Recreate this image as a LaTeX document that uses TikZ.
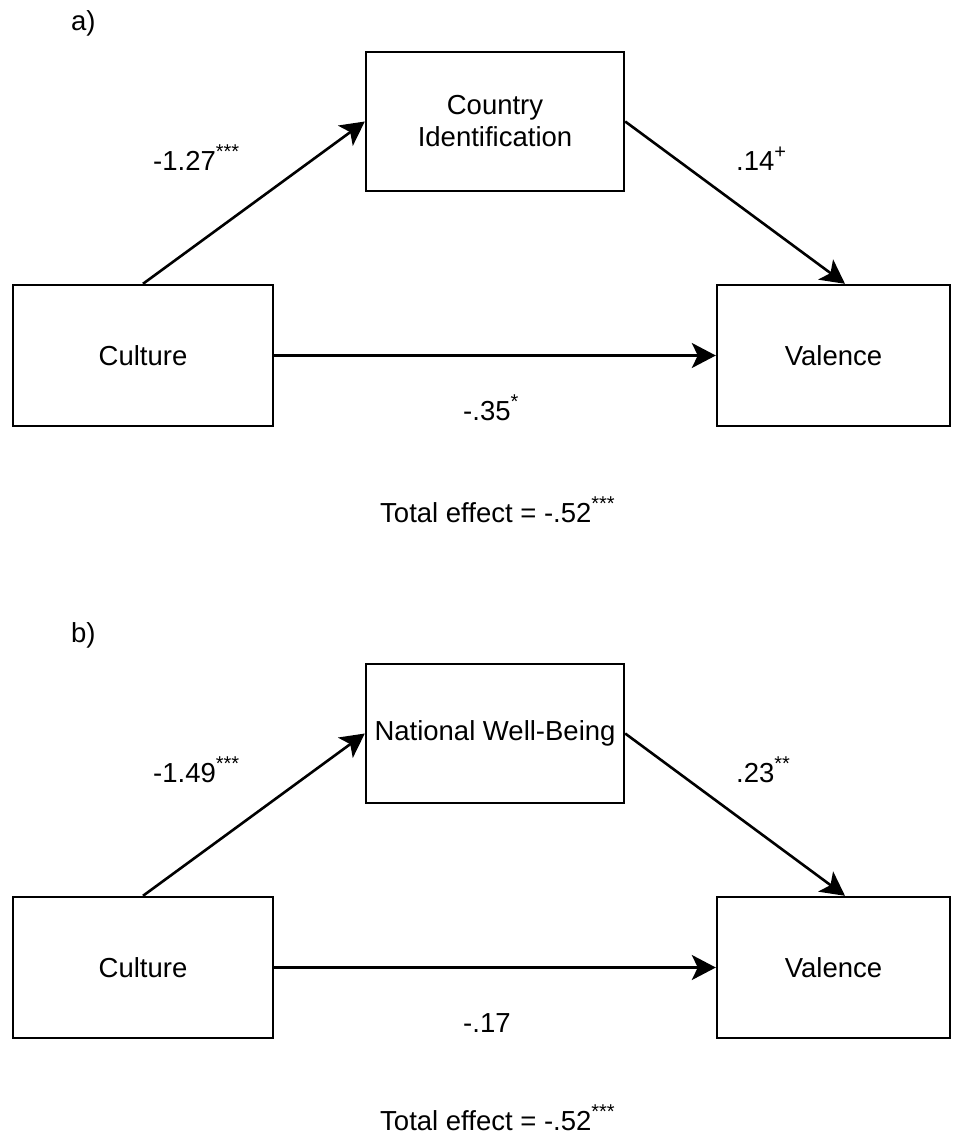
\documentclass[tikz,border=0pt]{standalone}
\usepackage{fontspec}
\setmainfont{Liberation Sans}
\usetikzlibrary{arrows.meta}
\newcommand{\sig}[1]{\raisebox{12pt}{\fontsize{20}{20}\selectfont #1}}
\begin{document}
\begin{tikzpicture}
	[x=1pt,y=-1pt,
	font=\fontsize{27.5}{32}\selectfont,
	box/.style={draw,line width=2.4pt,inner sep=2pt,align=center},
	lbl/.style={anchor=base west,inner sep=0pt}]
	\useasboundingbox (0,0) rectangle (963,1135);
	% a)
	\node[lbl] (pa) at (71,30) {a)};
	\node[box,minimum width=260pt,minimum height=141pt] (C1) at (143,355.5) {Culture};
	\node[box,minimum width=258pt,minimum height=139pt] (I1) at (495,121.5) {Country\\Identification};
	\node[box,minimum width=233pt,minimum height=141pt] (V1) at (833.5,355.5) {Valence};
	\path[-{Stealth[length=24pt,width=25pt,inset=6pt]},line width=2.6pt]
	(C1.north) edge (I1.west)
	(I1.east) edge ([xshift=11.5pt]V1.north)
	(C1.east) edge (V1.west);
	\node[lbl] (a1) at (153,170) {-1.27\sig{***}};
	\node[lbl] (a2) at (736,170) {.14\sig{+}};
	\node[lbl] (a3) at (463,420) {-.35\sig{*}};
	\node[lbl] (at) at (380,522) {Total effect = -.52\sig{***}};
	% b)
	\node[lbl] (pb) at (71,642) {b)};
	\node[box,minimum width=260pt,minimum height=141pt] (C2) at (143,967.5) {Culture};
	\node[box,minimum width=258pt,minimum height=139pt] (I2) at (495,733.5) {National Well-Being};
	\node[box,minimum width=233pt,minimum height=141pt] (V2) at (833.5,967.5) {Valence};
	\path[-{Stealth[length=24pt,width=25pt,inset=6pt]},line width=2.6pt]
	(C2.north) edge (I2.west)
	(I2.east) edge ([xshift=11.5pt]V2.north)
	(C2.east) edge (V2.west);
	\node[lbl] (b1) at (153,782) {-1.49\sig{***}};
	\node[lbl] (b2) at (736,782) {.23\sig{**}};
	\node[lbl] (b3) at (463,1032) {-.17};
	\node[lbl] (bt) at (380,1130) {Total effect = -.52\sig{***}};
\end{tikzpicture}
\end{document}
